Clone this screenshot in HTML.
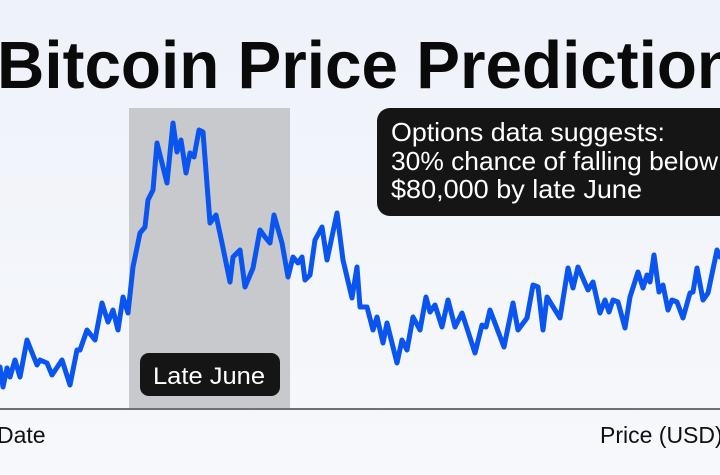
<!DOCTYPE html>
<html><head><meta charset="utf-8"><style>
html,body{margin:0;padding:0;width:720px;height:475px;overflow:hidden;background:#f3f6fb}
svg{display:block}
text{font-family:"Liberation Sans",sans-serif}
</style></head><body>
<svg width="720" height="475" viewBox="0 0 720 475">
<defs><linearGradient id="bg" x1="0" y1="0" x2="0" y2="1"><stop offset="0" stop-color="#eef2f9"/><stop offset="1" stop-color="#f7f8fb"/></linearGradient></defs>
<rect width="720" height="475" fill="url(#bg)"/>
<text x="-3" y="88" font-size="67" font-weight="bold" fill="#0a0a0a" textLength="740" lengthAdjust="spacingAndGlyphs">Bitcoin Price Prediction</text>
<rect x="129" y="108" width="161" height="300" fill="#c8c9cc"/>
<line x1="0" y1="409" x2="720" y2="409" stroke="#444" stroke-width="1.5"/>
<polyline fill="none" stroke="#0a55f0" stroke-width="5" stroke-linejoin="round" stroke-linecap="round" points="0,367 3,387 7,368 10,377 15,360 20,377 27,340 37,365 40,360 47,363 52,375 62,360 70,385 77,350 80,350 87,330 95,340 102,303 108,322 113,310 118,330 123,297 128,313 133,267 140,233 145,227 148,200 153,190 157,143 167,183 173,123 177,152 181,140 186,173 190,153 194,157 199,130 203,132 210,223 216,215 222,243 230,282 233,257 240,250 245,287 253,268 260,230 265,237 270,243 274,215 282,243 288,277 293,257 298,263 302,257 305,280 310,275 315,240 322,227 327,260 337,213 343,260 352,298 357,267 360,307 363,307 367,307 373,330 377,317 383,343 387,323 397,363 402,340 407,350 413,317 420,330 426,297 430,312 435,305 442,327 448,300 455,327 462,313 475,353 482,325 486,327 490,310 504,347 513,303 518,330 527,318 533,285 538,287 543,330 547,297 560,318 568,268 573,288 578,267 588,290 593,282 600,313 605,300 609,312 613,300 618,302 625,328 630,297 638,272 643,288 647,275 650,282 654,255 659,292 663,285 668,310 672,300 677,302 683,318 690,293 693,292 697,268 703,300 708,293 717,250 720,257"/>
<rect x="377" y="108" width="360" height="108" rx="13" fill="#151515"/>
<text x="391" y="141" font-size="26" fill="#fff" textLength="274" lengthAdjust="spacingAndGlyphs">Options data suggests:</text>
<text x="391" y="170" font-size="26" fill="#fff" textLength="327" lengthAdjust="spacingAndGlyphs">30% chance of falling below</text>
<text x="391" y="198" font-size="26" fill="#fff" textLength="251" lengthAdjust="spacingAndGlyphs">$80,000 by late June</text>
<rect x="140" y="353" width="140" height="43" rx="9" fill="#151515"/>
<text x="153" y="384" font-size="24" fill="#fff" textLength="112" lengthAdjust="spacingAndGlyphs">Late June</text>
<text x="-3" y="443" font-size="23" fill="#111">Date</text>
<text x="600" y="443" font-size="23" fill="#111">Price (USD)</text>
</svg>
</body></html>
